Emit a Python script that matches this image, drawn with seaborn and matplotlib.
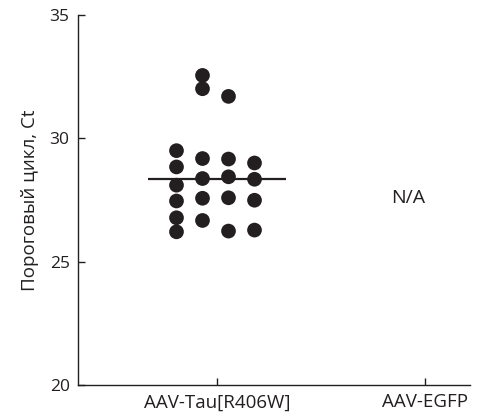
import numpy as np
import pandas as pd
import matplotlib
matplotlib.use("Agg")
import matplotlib.pyplot as plt
import seaborn as sns

categories = ["AAV-Tau[R406W]", "AAV-EGFP"]
ct_values = [29.50, 28.84, 28.10, 27.46, 26.78, 26.21,
             32.55, 32.01, 29.18, 28.37, 27.57, 26.67,
             31.70, 29.16, 28.44, 27.59, 26.24,
             29.00, 28.34, 27.49, 26.28]
column_index = [0]*6 + [1]*6 + [2]*5 + [3]*4
y_ticks = [20, 25, 30, 35]
y_label = "Пороговый цикл, Ct"
na_text = "N/A"

sns.set_theme(style="ticks")
plt.rcParams['font.family'] = ['Open Sans', 'DejaVu Sans']

df = pd.DataFrame({"ct": ct_values, "col": column_index})
df["xpos"] = 0 + (df["col"] - 1.5) * 0.125 - 0.007

fig = plt.figure(figsize=(4.8, 4.16), dpi=100)
ax = fig.add_axes([0.1625, 0.0745, 0.8165, 0.8895])

sns.scatterplot(data=df, x="xpos", y="ct", ax=ax, color="#231f20", s=112,
                edgecolor="none", legend=False)
center = float(np.median(ct_values))
ax.hlines(center, -0.33, 0.33, color="#231f20", linewidth=1.6)
ax.text(0.918, 27.6, na_text, ha="center", va="center", fontsize=14, color="#231f20")

ax.set_xlim(-0.668, 1.216)
ax.set_ylim(20, 35)
ax.set_xticks(range(len(categories)))
ax.set_xticklabels(categories, fontsize=13.5, color="#231f20")
ax.set_yticks(y_ticks)
ax.set_yticklabels([str(t) for t in y_ticks], fontsize=12.5, color="#231f20")
ax.set_xlabel("")
ax.set_ylabel(y_label, fontsize=13.5, color="#231f20", labelpad=8)
ax.tick_params(direction="in", length=5, width=1, color="#231f20", pad=6)
ax.tick_params(axis="x", pad=6)
for side in ["top", "right"]:
    ax.spines[side].set_visible(False)
for side in ["left", "bottom"]:
    ax.spines[side].set_color("#231f20")
    ax.spines[side].set_linewidth(1)

fig.savefig("out.png", dpi=100)
